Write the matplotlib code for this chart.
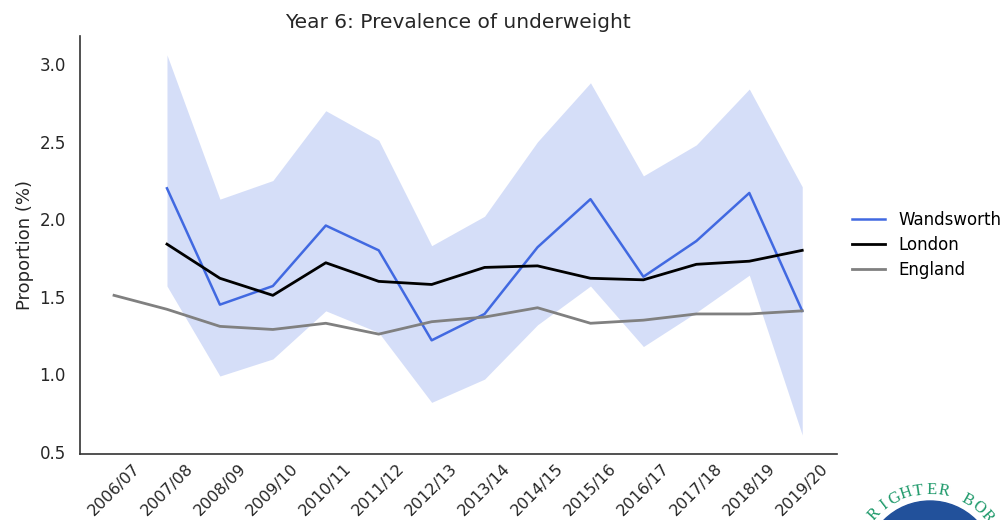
import numpy as np
import matplotlib.pyplot as plt
from matplotlib.patches import Ellipse

years = ["2006/07", "2007/08", "2008/09", "2009/10", "2010/11", "2011/12", "2012/13",
         "2013/14", "2014/15", "2015/16", "2016/17", "2017/18", "2018/19", "2019/20"]

# Wandsworth starts in 2007/08
wandsworth = [np.nan, 2.20, 1.45, 1.57, 1.96, 1.80, 1.22, 1.39, 1.82, 2.13, 1.63, 1.86, 2.17, 1.41]
ci_upper = [np.nan, 3.06, 2.13, 2.25, 2.70, 2.51, 1.83, 2.02, 2.50, 2.88, 2.28, 2.48, 2.84, 2.21]
ci_lower = [np.nan, 1.57, 0.99, 1.10, 1.41, 1.27, 0.82, 0.97, 1.32, 1.57, 1.18, 1.40, 1.64, 0.61]
london = [np.nan, 1.84, 1.62, 1.51, 1.72, 1.60, 1.58, 1.69, 1.70, 1.62, 1.61, 1.71, 1.73, 1.80]
england = [1.51, 1.42, 1.31, 1.29, 1.33, 1.26, 1.34, 1.37, 1.43, 1.33, 1.35, 1.39, 1.39, 1.41]

fig = plt.figure(figsize=(10.08, 5.2), dpi=100)
ax = fig.add_axes([0.079, 0.127, 0.751, 0.804])

x = np.arange(len(years))
ax.fill_between(x, ci_lower, ci_upper, color="#4169e1", alpha=0.22, linewidth=0)
ax.plot(x, wandsworth, color="#4169e1", lw=1.8, label="Wandsworth")
ax.plot(x, london, color="black", lw=2, label="London")
ax.plot(x, england, color="gray", lw=2, label="England")

ax.set_xticks(x)
ax.set_xticklabels(years, rotation=45, ha="center")
ax.set_yticks([0.5, 1.0, 1.5, 2.0, 2.5, 3.0])
ax.tick_params(axis="y", length=0, pad=10, labelsize=12, colors="#262626")
ax.tick_params(axis="x", length=0, pad=5, labelsize=11.5, colors="#262626")
ax.set_ylabel("Proportion (%)", fontsize=13, color="#262626")
ax.set_title("Year 6: Prevalence of underweight", fontsize=14.5, color="#262626", pad=6)

for s in ["top", "right"]:
    ax.spines[s].set_visible(False)
for s in ["left", "bottom"]:
    ax.spines[s].set_color("#333333")
    ax.spines[s].set_linewidth(1.2)

ax.legend(loc="center left", bbox_to_anchor=(1.0, 0.5), frameon=False, fontsize=12,
          labelspacing=0.4)

# partial logo in the bottom-right corner (only the part that shows)
W, H = 1008, 520
cx, cy, r = 930, 566, 65
fig.patches.append(Ellipse((cx / W, 1 - cy / H), 2 * r / W, 2 * r / H,
                           transform=fig.transFigure, color="#22519b", zorder=5))
word = "RIGHTER BOR"
for i, ch in enumerate(word):
    a = np.radians(-47 + 9.6 * i)
    px = cx + 76 * np.sin(a)
    py = cy - 76 * np.cos(a)
    fig.text(px / W, 1 - py / H, ch, fontsize=12, family="Liberation Serif", color="#1f9a6b",
             rotation=-np.degrees(a), ha="center", va="center")

fig.savefig("out.png", dpi=100)
